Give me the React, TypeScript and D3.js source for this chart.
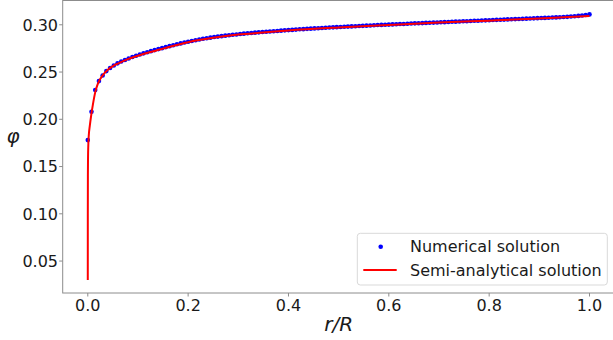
import React from "react";
import * as d3 from "d3";

// numerical solution, evenly spaced on r/R in [0, 1]
const numericalPhi = [
  0.178, 0.208, 0.231, 0.2404, 0.2464, 0.251, 0.2543, 0.257, 0.2592, 0.2611,
  0.2628, 0.2644, 0.2659, 0.2673, 0.2686, 0.2698, 0.271, 0.2721, 0.2732, 0.2743,
  0.2753, 0.2764, 0.2774, 0.2784, 0.2794, 0.2803, 0.2812, 0.2821, 0.2829, 0.2837,
  0.2845, 0.2852, 0.2858, 0.2864, 0.287, 0.2875, 0.288, 0.2885, 0.289, 0.2894,
  0.2898, 0.2902, 0.2906, 0.291, 0.2913, 0.2917, 0.292, 0.2923, 0.2926, 0.2929,
  0.2932, 0.2935, 0.2938, 0.2941, 0.2944, 0.2946, 0.2949, 0.2952, 0.2954, 0.2957,
  0.2959, 0.2962, 0.2964, 0.2966, 0.2969, 0.2971, 0.2973, 0.2975, 0.2977, 0.2979,
  0.2981, 0.2983, 0.2985, 0.2987, 0.2989, 0.2991, 0.2993, 0.2995, 0.2997, 0.2999,
  0.3, 0.3002, 0.3004, 0.3006, 0.3008, 0.3009, 0.3011, 0.3013, 0.3015, 0.3016,
  0.3018, 0.302, 0.3022, 0.3023, 0.3025, 0.3027, 0.3028, 0.303, 0.3032, 0.3033,
  0.3035, 0.3037, 0.3038, 0.304, 0.3042, 0.3043, 0.3045, 0.3047, 0.3048, 0.305,
  0.3052, 0.3053, 0.3055, 0.3057, 0.3058, 0.306, 0.3062, 0.3063, 0.3065, 0.3067,
  0.3068, 0.307, 0.3072, 0.3073, 0.3075, 0.3077, 0.3078, 0.308, 0.3082, 0.3084,
  0.3087, 0.309, 0.3094, 0.3098, 0.3103, 0.311,
];

// semi-analytical solution
const analyticR = [
  0, 0.00005, 0.0002, 0.0005, 0.001, 0.002, 0.004, 0.007, 0.01, 0.015, 0.02,
  0.03, 0.04, 0.05, 0.06, 0.08, 0.1, 0.125, 0.15, 0.2, 0.25, 0.3, 0.35, 0.4,
  0.5, 0.6, 0.7, 0.8, 0.9, 1.0,
];
const analyticPhi = [
  0.03, 0.1, 0.14, 0.16, 0.172, 0.183, 0.193, 0.205, 0.215, 0.229, 0.2375,
  0.2468, 0.2525, 0.2562, 0.259, 0.2637, 0.2672, 0.2712, 0.2748, 0.2816, 0.2862,
  0.2896, 0.2918, 0.294, 0.2972, 0.2998, 0.3023, 0.3044, 0.3066, 0.3093,
];

const legendLabels = ["Numerical solution", "Semi-analytical solution"];

const width = 613;
const height = 340;
const left = 62.7;
const right = 614.6;
const top = 0.5;
const bottom = 293;

export default function App() {
  const x = d3.scaleLinear().domain([-0.05, 1.05]).range([left, right]);
  const y = d3.scaleLinear().domain([0.0162, 0.3257]).range([bottom, top]);

  const n = numericalPhi.length;
  const dots = numericalPhi.map((v, i) => ({ r: i / (n - 1), v }));
  const lineData = analyticR.map((r, i) => ({ r, v: analyticPhi[i] }));

  const line = d3
    .line<{ r: number; v: number }>()
    .x((d) => x(d.r))
    .y((d) => y(d.v))
    .curve(d3.curveMonotoneX);

  const xTicks = x.ticks(6);
  const yTicks = y.ticks(6);
  const font = "DejaVu Sans, sans-serif";

  return (
    <div style={{ position: "fixed", left: 0, top: 0 }}>
      <svg width={width} height={height} style={{ display: "block", fontFamily: font }}>
        <rect width={width} height={height} fill="#fff" />

        {/* numerical points */}
        {dots.map((d, i) => (
          <circle key={i} cx={x(d.r)} cy={y(d.v)} r={2.3} fill="#0000ff" />
        ))}

        {/* semi-analytical curve */}
        <path d={line(lineData) || ""} fill="none" stroke="#ff0000" strokeWidth={2} />

        {/* spines */}
        <rect
          x={left}
          y={top}
          width={right - left}
          height={bottom - top}
          fill="none"
          stroke="#8c8c8c"
          strokeWidth={1}
        />

        {/* y axis */}
        {yTicks.map((t) => (
          <g key={t}>
            <line x1={left - 3.5} x2={left} y1={y(t)} y2={y(t)} stroke="#8c8c8c" />
            <text x={58} y={y(t)} dy="0.36em" textAnchor="end" fontSize={16} fill="#1a1a1a">
              {d3.format(".2f")(t)}
            </text>
          </g>
        ))}

        {/* x axis */}
        {xTicks.map((t) => (
          <g key={t}>
            <line x1={x(t)} x2={x(t)} y1={bottom} y2={bottom + 3.5} stroke="#8c8c8c" />
            <text x={x(t)} y={311} textAnchor="middle" fontSize={16} fill="#1a1a1a">
              {d3.format(".1f")(t)}
            </text>
          </g>
        ))}

        {/* axis labels */}
        <text x={13} y={143} textAnchor="middle" fontSize={20} fontStyle="italic" fill="#1a1a1a">
          φ
        </text>
        <text x={(left + right) / 2} y={331} textAnchor="middle" fontSize={20} fontStyle="italic" fill="#1a1a1a">
          r/R
        </text>

        {/* legend */}
        <rect
          x={357.3}
          y={233.3}
          width={250}
          height={51.7}
          rx={3}
          fill="#fff"
          fillOpacity={0.8}
          stroke="#d9d9d9"
        />
        <circle cx={380.7} cy={246.7} r={2.3} fill="#0000ff" />
        <text x={410} y={246.7} dy="0.36em" fontSize={16} fill="#1a1a1a">
          {legendLabels[0]}
        </text>
        <line x1={363.3} x2={396.7} y1={270} y2={270} stroke="#ff0000" strokeWidth={2} />
        <text x={410} y={270} dy="0.36em" fontSize={16} fill="#1a1a1a">
          {legendLabels[1]}
        </text>
      </svg>
    </div>
  );
}
